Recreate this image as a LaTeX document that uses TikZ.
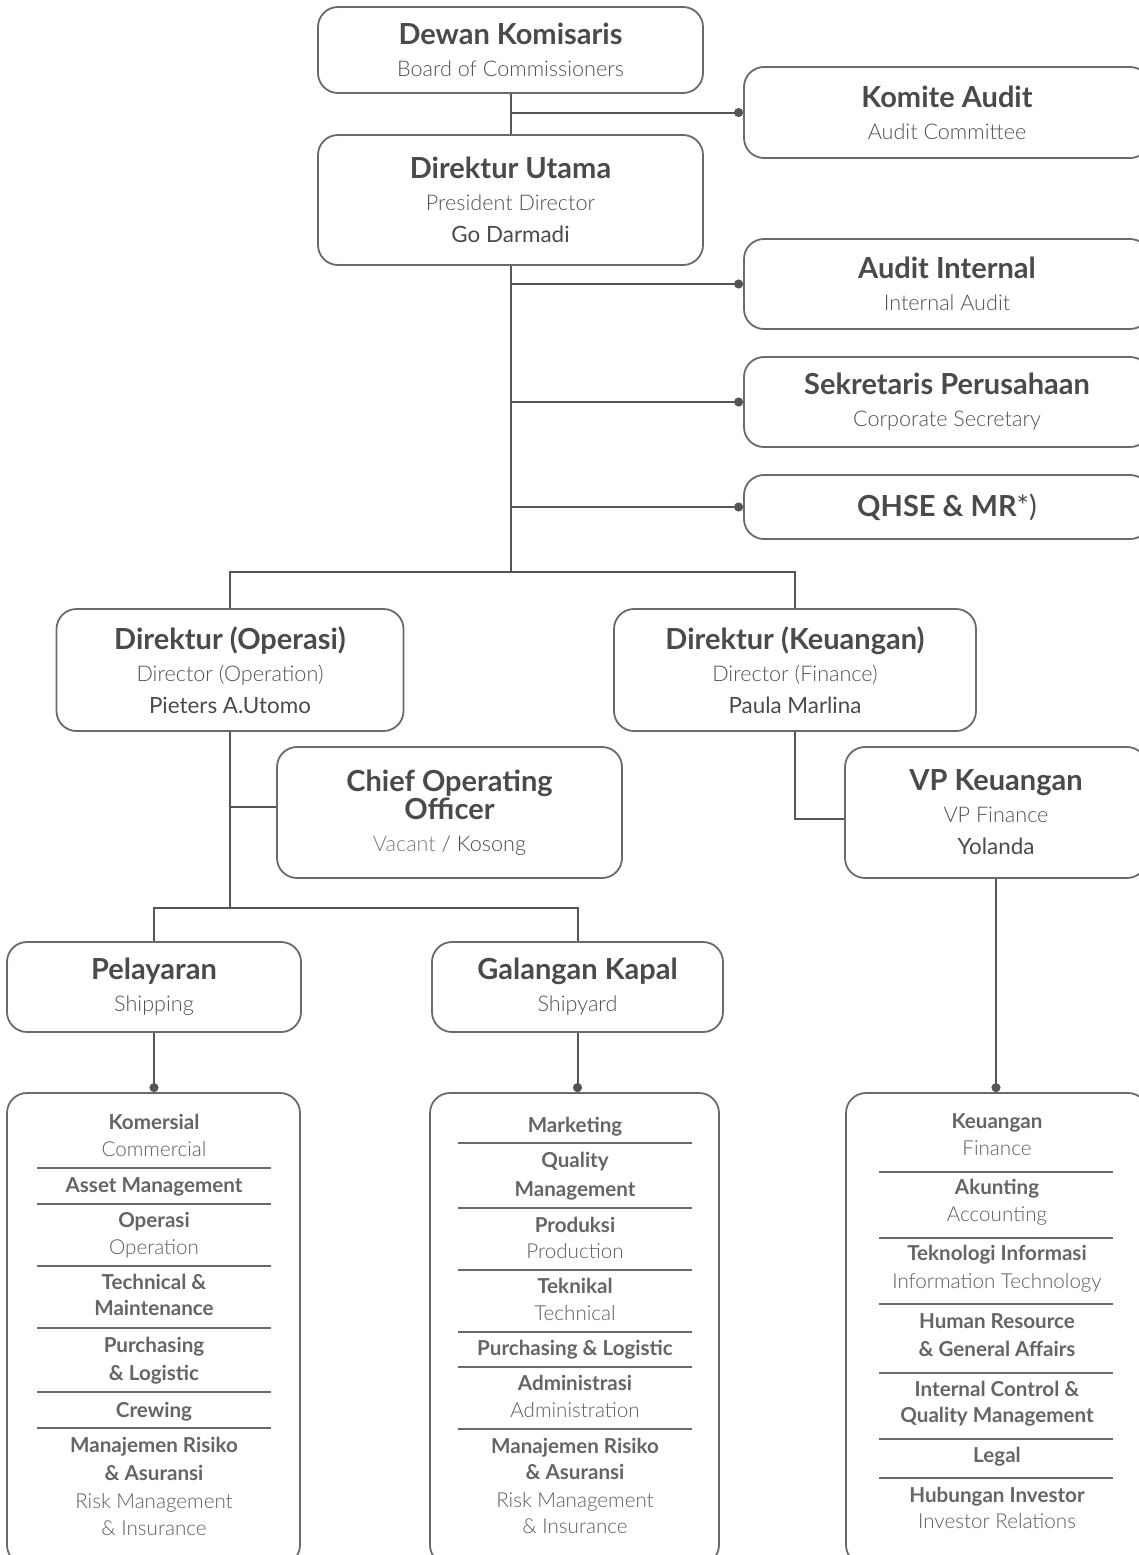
\documentclass[tikz,border=0pt]{standalone}
\usepackage{fontspec}
\setmainfont{Lato}
\newfontfamily\latolight{Lato Light}
\usetikzlibrary{arrows.meta}
\definecolor{ttlc}{HTML}{4A4A4C}
\definecolor{subc}{HTML}{505052}
\definecolor{nmc}{HTML}{4A4A4C}
\definecolor{bordc}{HTML}{6A6A6C}
\definecolor{linec}{HTML}{555557}
\definecolor{bbc}{HTML}{656567}
\definecolor{bsc}{HTML}{5C5C5E}
\definecolor{vacc}{HTML}{7C7C7E}
\newcommand\ttl[1]{{\fontsize{14.5}{16}\selectfont\bfseries\color{ttlc}#1}}
\newcommand\subt[1]{{\fontsize{10.8}{16}\selectfont\latolight\color{subc}#1}}
\newcommand\nm[1]{{\fontsize{11.2}{16}\selectfont\color{nmc}#1}}
\tikzset{
  box/.style={draw=bordc, line width=0.9pt, rounded corners=10pt, inner sep=0pt, align=center, font=\fontsize{10}{16pt}\selectfont},
  conn/.style={draw=linec, line width=1pt},
  dot/.style={conn, -{Circle[length=4.5pt]}},
  bb/.style={inner sep=0pt, text height=7pt, text depth=2pt, font=\fontsize{10.3}{12}\selectfont\bfseries, text=bbc},
  bs/.style={inner sep=0pt, text height=7pt, text depth=2pt, font=\fontsize{10.3}{12}\selectfont\latolight, text=bsc},
  sep/.style={draw=bordc, line width=0.55pt}
}
\begin{document}
\begin{tikzpicture}[x=0.5pt,y=-0.5pt]
\useasboundingbox (0,0) rectangle (1139,1555);
\clip (0,0) rectangle (1139,1555);
% top boxes
\node[box, minimum width=192.5pt, minimum height=43pt] (dk) at (510.5,50) {\ttl{Dewan Komisaris}\\ \subt{Board of Commissioners}};
\node[box, minimum width=192.5pt, minimum height=65pt] (du) at (510.5,200) {\ttl{Direktur Utama}\\ \subt{President Director}\\ \nm{Go Darmadi}};
\node[box, minimum width=203pt, minimum height=45.5pt] (ka) at (947,112.5) {\ttl{Komite Audit}\\ \subt{Audit Committee}};
\node[box, minimum width=203pt, minimum height=45pt] (ai) at (947,284) {\ttl{Audit Internal}\\ \subt{Internal Audit}};
\node[box, minimum width=203pt, minimum height=45pt] (sp) at (947,402) {\ttl{Sekretaris Perusahaan}\\ \subt{Corporate Secretary}};
\node[box, minimum width=203pt, minimum height=32pt] (qh) at (947,507) {\ttl{QHSE \& MR{\mdseries*)}}};
% directors
\node[box, minimum width=173.5pt, minimum height=61pt] (do) at (230,670) {\ttl{Direktur (Operasi)}\\ \subt{Director (Operation)}\\ \nm{Pieters A.Utomo}};
\node[box, minimum width=181pt, minimum height=61pt] (dkeu) at (795,670) {\ttl{Direktur (Keuangan)}\\ \subt{Director (Finance)}\\ \nm{Paula Marlina}};
\node[box, minimum width=172.5pt, minimum height=65.5pt] (coo) at (449.5,812.5) {\ttl{Chief Operating}\\[-2pt] \ttl{Officer}\\ {\fontsize{10.8}{16}\selectfont\latolight\color{vacc}Vacant \color{nmc}/ Kosong}};
\node[box, minimum width=151pt, minimum height=65.5pt] (vp) at (996,812.5) {\ttl{VP Keuangan}\\ \subt{VP Finance}\\ \nm{Yolanda}};
\node[box, minimum width=147pt, minimum height=45pt] (pel) at (154,987) {\ttl{Pelayaran}\\ \subt{Shipping}};
\node[box, minimum width=145.5pt, minimum height=45pt] (gal) at (577.5,987) {\ttl{Galangan Kapal}\\ \subt{Shipyard}};
% bottom boxes
\node[box, minimum width=146.5pt, minimum height=236pt] (b1) at (153.5,1329) {};
\node[box, minimum width=144.5pt, minimum height=236pt] (b2) at (574.5,1329) {};
\node[box, minimum width=151pt, minimum height=236pt] (b3) at (997,1329) {};
% bottom box 1
\foreach \y/\t [count=\i] in {1124/Komersial,1187/Asset Management,1222/Operasi,1284/Technical \&,1310/Maintenance,1347/Purchasing,1375/\& Logistic,1412/Crewing,1447/Manajemen Risiko,1475/\& Asuransi}
  \node[bb] (b1b\i) at (154,\y) {\t};
\foreach \y/\t [count=\i] in {1151/Commercial,1249/Operation,1503/Risk Management,1530/\& Insurance}
  \node[bs] (b1s\i) at (154,\y) {\t};
\foreach \y in {1168,1204,1266,1328,1392,1428}
  \draw[sep] (37,\y) -- (271,\y);
% bottom box 2
\foreach \y/\t [count=\i] in {1127/Marketing,1162/Quality,1191/Management,1227/Produksi,1288/Teknikal,1350/Purchasing \& Logistic,1385/Administrasi,1448/Manajemen Risiko,1474/\& Asuransi}
  \node[bb] (b2b\i) at (575,\y) {\t};
\foreach \y/\t [count=\i] in {1253/Production,1315/Technical,1412/Administration,1502/Risk Management,1528/\& Insurance}
  \node[bs] (b2s\i) at (575,\y) {\t};
\foreach \y in {1143,1208,1270,1332,1367,1429}
  \draw[sep] (458,\y) -- (692,\y);
% bottom box 3
\foreach \y/\t [count=\i] in {1123/Keuangan,1189/Akunting,1255/Teknologi Informasi,1323/Human Resource,1351/\& General Affairs,1391/Internal Control \&,1417/Quality Management,1457/Legal,1497/Hubungan Investor}
  \node[bb] (b3b\i) at (997,\y) {\t};
\foreach \y/\t [count=\i] in {1150/Finance,1216/Accounting,1283/Information Technology,1523/Investor Relations}
  \node[bs] (b3s\i) at (997,\y) {\t};
\foreach \y in {1172,1238,1304,1373,1439,1478}
  \draw[sep] (879,\y) -- (1113,\y);
% connectors
\coordinate (j1) at (510.5,572);
\coordinate (j2) at (230,908);
\coordinate (cooin) at ([yshift=3pt]coo.west);
\coordinate (vpin) at ([yshift=-3pt]vp.west);
\draw[conn] (dk.south) -- (du.north);
\draw[dot] (dk.south |- ka.west) -- (ka.west);
\draw[conn] (du.south) -- (j1);
\draw[dot] (du.south |- ai.west) -- (ai.west);
\draw[dot] (du.south |- sp.west) -- (sp.west);
\draw[dot] (du.south |- qh.west) -- (qh.west);
\draw[conn] (do.north) |- (j1) -| (dkeu.north);
\draw[conn] (do.south) -- (j2);
\draw[conn] (do.south |- cooin) -- (cooin);
\draw[conn] (pel.north) |- (j2) -| (gal.north);
\draw[dot] (pel.south) -- (pel.south |- b1.north);
\draw[dot] (gal.south) -- (gal.south |- b2.north);
\draw[conn] (dkeu.south) |- (vpin);
\draw[dot] (vp.south) -- (vp.south |- b3.north);
\end{tikzpicture}
\end{document}
